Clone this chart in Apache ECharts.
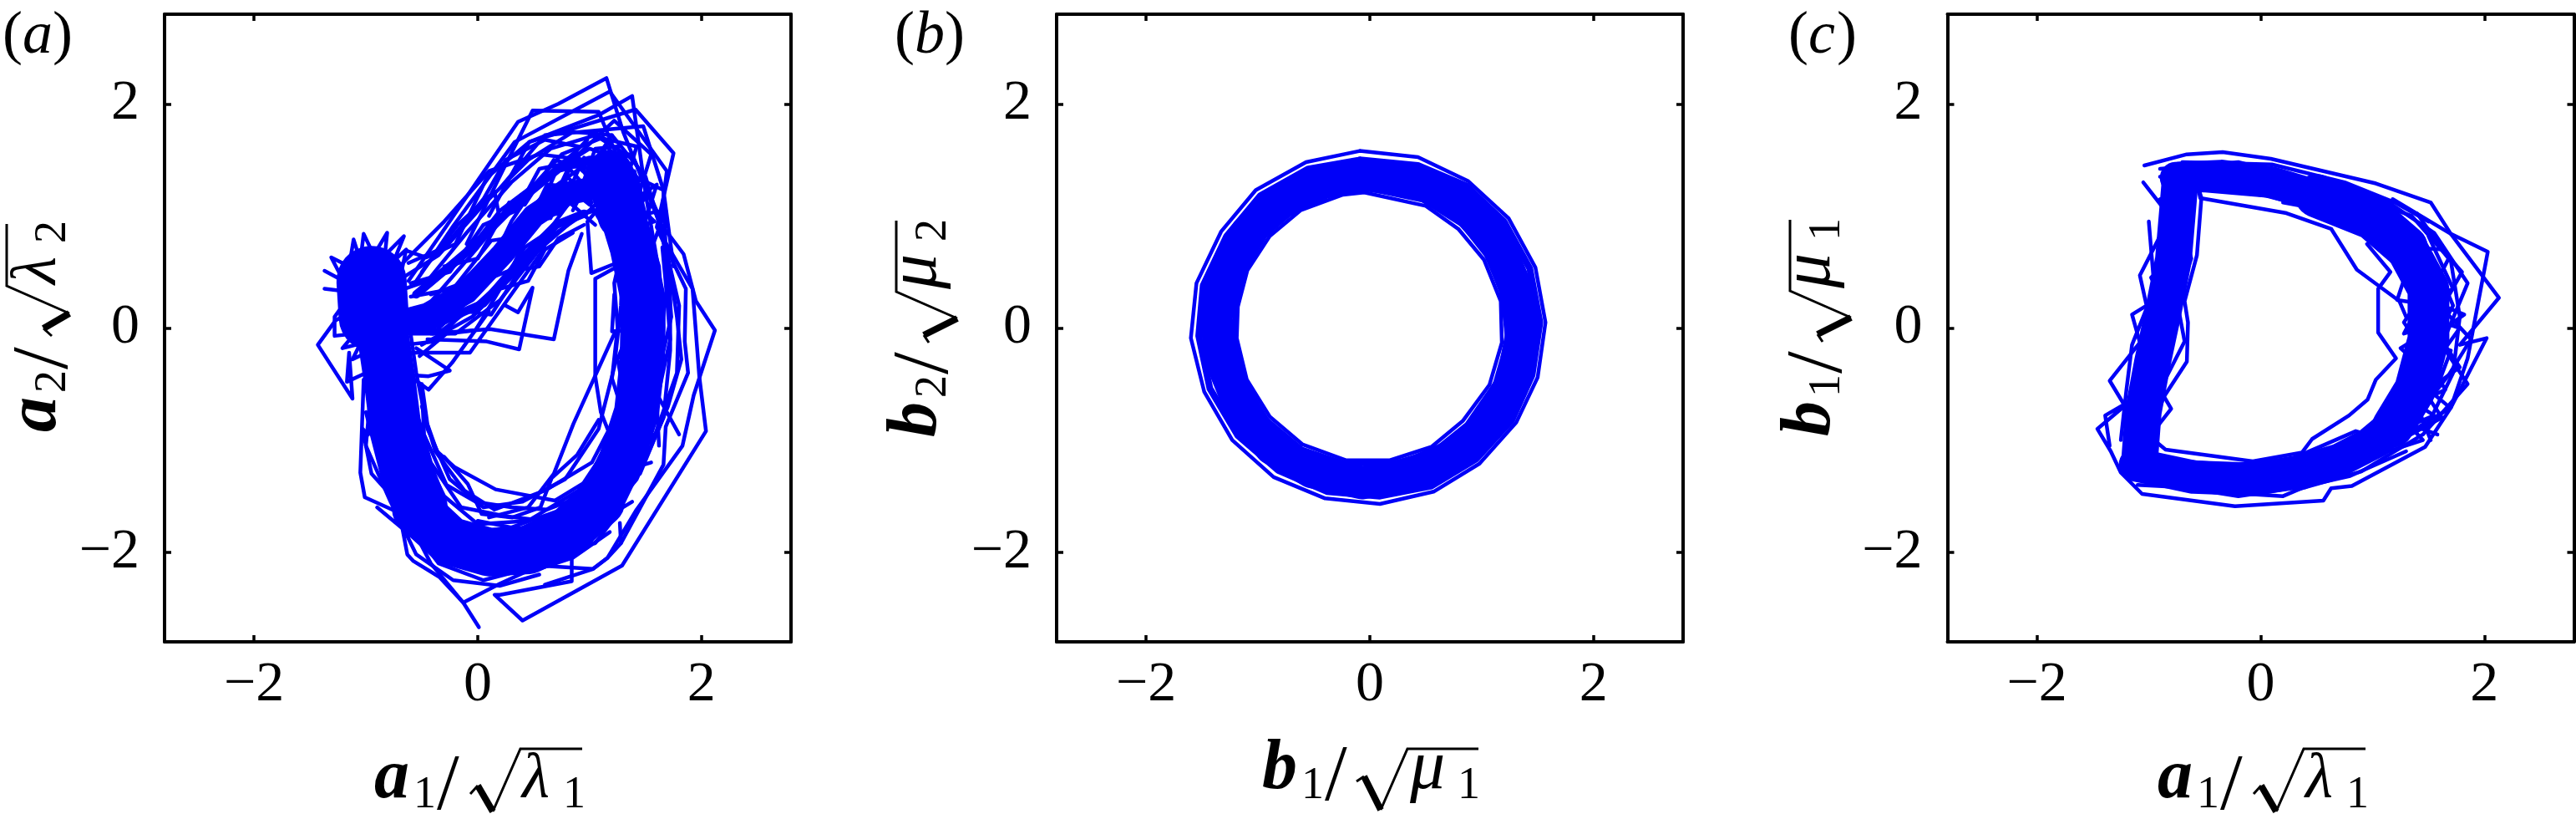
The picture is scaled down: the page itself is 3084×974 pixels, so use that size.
<!DOCTYPE html>
<html>
<head>
<meta charset="utf-8">
<style>
* { margin: 0; padding: 0; }
#chart-container { width: 3084px; height: 974px; background: #fff; }
</style>
<script src="https://cdn.jsdelivr.net/npm/echarts@6/dist/echarts.min.js"></script>
</head>
<body>
<div id="chart-container"></div>
<script>
const tickValues = [-2, 0, 2]

// panel a: a1 vs a2
const blobCoreA = [[-0.95, 0.42], [-0.93, 0.1]]
const armCoreA = [[-0.72, 0.05], [-0.45, 0.12], [-0.1, 0.32], [0.22, 0.66], [0.5, 1.0], [0.8, 1.2], [1.05, 1.25]]
const armCoreA2 = [[-0.55, 0.3], [-0.05, 0.72], [0.35, 1.12], [0.72, 1.42], [1.0, 1.5]]
const armCoreA3 = [[-0.5, -0.02], [0.05, 0.22], [0.4, 0.62], [0.7, 0.92], [0.95, 1.02]]
const downCoreA = [[-0.85, -0.05], [-0.79, -0.45], [-0.74, -0.85], [-0.62, -1.3], [-0.5, -1.6]]
const bottomCoreA = [[-0.55, -1.62], [-0.25, -1.9], [0.1, -2.0], [0.45, -1.98], [0.8, -1.82], [1.1, -1.55]]
const rightCoreA = [[1.1, -1.55], [1.28, -1.18], [1.42, -0.75], [1.47, -0.3], [1.48, 0.25], [1.38, 0.72], [1.28, 1.05]]
const topCoreA = [[1.28, 1.0], [1.26, 1.22], [1.18, 1.38]]
const blobEdgeA = [[-1.37, 0.51], [-1.2, 0.42], [-1.31, 0.63], [-1.15, 0.55], [-1.11, 0.79], [-1.05, 0.6], [-1.02, 0.84], [-0.93, 0.65], [-0.81, 0.85], [-0.83, 0.65], [-0.66, 0.82], [-0.75, 0.6], [-0.64, 0.7], [-0.7, 0.42]]
const blobLeftA = [[-1.37, 0.35], [-1.12, 0.32], [-1.28, 0.1], [-1.28, -0.07], [-1.1, -0.05], [-1.21, -0.18], [-1.05, -0.14], [-1.12, -0.28], [-0.95, -0.2]]
const leftTailA = [[-1.0, 0.2], [-1.27, 0.07], [-1.43, -0.15], [-1.12, -0.63], [-1.15, -0.22], [-1.17, -0.48], [-1.02, -0.41], [-0.9, -0.2]]
const upperA1 = [[-0.62, 0.42], [-0.28, 0.91], [0.36, 1.84], [0.72, 2.0], [1.15, 2.23], [1.3, 1.75], [1.62, 0.95], [1.84, 0.66], [1.95, 0.24], [2.12, -0.02], [1.93, -0.6], [1.83, -1.05], [1.42, -1.62], [1.16, -2.05], [1.03, -2.15], [0.6, -2.29]]
const upperA2 = [[-0.55, 0.42], [-0.22, 0.91], [0.33, 1.66], [1.18, 2.11], [1.69, 1.4], [1.62, 0.85], [1.86, 0.35], [1.85, -0.12], [1.88, -0.4], [1.68, -0.88], [1.66, -1.22], [1.28, -1.92], [1.27, -1.74]]
const upperA3 = [[-0.1, 0.75], [0.22, 1.4], [0.49, 1.94], [1.08, 1.93], [1.3, 1.4], [1.66, 1.23], [1.68, 0.7], [1.73, 0.1], [1.58, -0.55], [1.8, -0.95]]
const upperA4 = [[0.08, 1.34], [0.46, 1.66], [1.41, 1.95], [1.75, 1.56], [1.69, 1.3], [1.6, 0.9], [1.92, 0.35], [1.98, -0.43], [2.04, -0.92], [1.29, -2.12], [0.4, -2.61], [0.15, -2.38], [0.2, -2.38], [0.84, -2.26], [0.84, -2.05], [0.2, -2.2]]
const upperA5 = [[0.1, 1.0], [0.46, 1.66], [1.08, 1.9], [1.38, 2.07], [1.5, 1.2], [1.62, 0.5]]
const upperA6 = [[0.2, 1.25], [0.6, 1.72], [1.48, 1.8], [1.66, 1.23], [1.75, 0.55]]
const armEdgeA = [[-0.64, 0.69], [-0.46, 0.63], [-0.2, 0.75], [0.08, 1.34]]
const notchA1 = [[-0.42, -0.05], [0.11, -0.01], [0.68, -0.1], [0.81, 0.51], [0.93, 0.84]]
const notchA2 = [[-0.45, -0.1], [0.08, -0.12], [0.37, -0.19], [0.49, 0.36], [0.36, 0.14], [0.25, 0.2]]
const notchA3 = [[-0.6, -0.22], [-0.07, -0.22], [0.3, 0.3], [0.6, 0.72]]
const notchA4 = [[-0.62, -0.42], [-0.44, -0.55], [-0.23, -0.31], [0.1, 0.15]]
const notchA5 = [[-0.55, -0.18], [-0.25, -0.38], [-0.44, -0.43], [-0.62, -0.42]]
const innerRightA1 = [[1.015, 0.49], [1.29, 0.6], [1.015, 0.49], [0.98, 0.95], [1.15, 1.15]]
const innerRightA2 = [[1.25, 0.55], [1.05, 0.44], [1.05, -0.43], [1.1, -0.75], [1.28, -1.2]]
const innerRightA3 = [[1.23, -0.03], [0.855, -0.855], [0.68, -1.3], [0.45, -1.6], [0.1, -1.69]]
const innerRightA4 = [[1.22, 0.3], [1.2, -0.03], [1.35, -0.02], [1.25, -0.28], [1.32, -0.65]]
const innerBottomA1 = [[-0.5, -0.5], [-0.45, -0.86], [-0.365, -1.1], [-0.21, -1.24], [0.16, -1.44], [0.69, -1.54], [1.0, -1.35], [1.25, -0.9]]
const innerBottomA2 = [[-0.3, -1.15], [-0.09, -1.39], [0.035, -1.66], [0.31, -1.69], [0.56, -1.6], [0.66, -1.34], [0.89, -1.13], [1.08, -0.82]]
const leftEdgeA1 = [[-0.72, -0.3], [-1.02, -0.46], [-1.05, -1.29], [-1.01, -1.51], [-0.7, -1.65], [-0.63, -2.02], [-0.575, -2.08], [-0.345, -2.22], [-0.13, -2.45], [0.01, -2.67]]
const leftEdgeA2 = [[-0.75, -0.35], [-0.98, -0.95], [-1.03, -0.9], [-0.95, -1.3], [-0.68, -1.6], [-0.42, -2.1], [-0.13, -2.45], [0.2, -2.28], [0.55, -2.12], [1.03, -2.15], [1.16, -2.05], [1.28, -1.92]]
const orbitA1 = [[-0.8, 0.3], [-0.45, 0.42], [-0.1, 0.85], [0.3, 1.3], [0.65, 1.6], [1.05, 1.72], [1.4, 1.5], [1.62, 1.0], [1.72, 0.4], [1.72, -0.2], [1.66, -0.8], [1.42, -1.35], [1.05, -1.8], [0.55, -2.12], [0.05, -2.25], [-0.35, -2.1], [-0.65, -1.7], [-0.88, -1.15], [-0.98, -0.6], [-1.0, -0.1]]
const orbitA2 = [[-0.7, 0.15], [-0.3, 0.2], [0.1, 0.55], [0.45, 0.95], [0.8, 1.2], [1.1, 1.25], [1.3, 1.05], [1.4, 0.6], [1.42, 0.05], [1.35, -0.5], [1.2, -1.0], [0.9, -1.45], [0.45, -1.72], [0.0, -1.75], [-0.3, -1.5], [-0.52, -1.05], [-0.62, -0.55], [-0.68, -0.1]]
const orbitA3 = [[-0.75, 0.4], [-0.35, 0.65], [0.05, 1.1], [0.45, 1.5], [0.85, 1.75], [1.2, 1.72], [1.5, 1.35], [1.66, 0.8], [1.8, 0.2], [1.78, -0.4], [1.55, -1.05], [1.25, -1.6], [0.75, -2.0], [0.2, -2.2], [-0.2, -2.0], [-0.55, -1.55], [-0.8, -0.95], [-0.85, -0.35], [-0.9, 0.1]]
const orbitA4 = [[-0.65, -0.05], [-0.2, -0.05], [0.2, 0.25], [0.55, 0.7], [0.9, 1.0], [1.2, 1.1], [1.42, 0.85], [1.52, 0.35], [1.55, -0.25], [1.4, -0.85], [1.1, -1.35], [0.7, -1.65], [0.25, -1.85], [-0.15, -1.9], [-0.5, -1.65], [-0.72, -1.2], [-0.82, -0.7], [-0.85, -0.2]]
const orbitA5 = [[-0.7, 0.55], [-0.3, 0.95], [0.1, 1.4], [0.55, 1.55], [0.95, 1.5], [1.3, 1.3], [1.55, 0.8], [1.58, 0.25], [1.6, -0.35], [1.48, -1.0], [1.2, -1.5], [0.8, -1.9], [0.35, -2.05], [-0.1, -2.15], [-0.45, -1.85], [-0.75, -1.4], [-0.93, -0.9], [-0.9, -0.4]]
const orbitA6 = [[-0.6, 0.05], [-0.15, 0.4], [0.25, 0.8], [0.6, 1.2], [0.95, 1.45], [1.15, 1.55], [1.32, 1.25], [1.3, 0.75], [1.28, 0.2], [1.22, -0.35], [1.08, -0.9], [0.78, -1.35], [0.4, -1.55], [0.05, -1.6], [-0.25, -1.35], [-0.45, -0.9], [-0.55, -0.4], [-0.6, -0.05]]
const orbitA7 = [[-0.55, 0.3], [-0.15, 0.6], [0.2, 1.05], [0.6, 1.35], [1.0, 1.6], [1.28, 1.5], [1.45, 1.1], [1.62, 0.55], [1.66, 0.0], [1.62, -0.55], [1.35, -1.15], [1.0, -1.62], [0.6, -1.9], [0.15, -2.02], [-0.2, -1.72], [-0.48, -1.3], [-0.68, -0.8], [-0.76, -0.3]]
const orbitA8 = [[-0.5, -0.15], [-0.05, 0.1], [0.35, 0.5], [0.7, 0.85], [1.0, 1.05], [1.25, 1.3], [1.4, 1.4], [1.5, 1.0], [1.45, 0.45], [1.38, -0.15], [1.28, -0.7], [1.02, -1.2], [0.6, -1.45], [0.15, -1.62], [-0.12, -1.45], [-0.38, -1.1], [-0.5, -0.7]]
const orbitA9 = [[-0.45, 0.2], [0.0, 0.72], [0.38, 1.18], [0.75, 1.45], [1.1, 1.42], [1.2, 0.98], [0.95, 1.32], [1.05, 1.6], [1.25, 1.62], [1.38, 1.2], [1.35, 0.9]]
const orbitA10 = [[-0.35, 0.05], [0.1, 0.42], [0.42, 0.8], [0.68, 1.1], [0.82, 1.42], [1.02, 1.2], [1.12, 0.95], [1.0, 1.38], [1.18, 1.5], [1.28, 1.18]]
const orbitA11 = [[-0.4, -0.05], [0.0, 0.32], [0.3, 0.95], [0.52, 1.28], [0.88, 1.58], [1.05, 1.15], [1.3, 1.42], [1.1, 1.05], [1.28, 0.95]]
const orbitA12 = [[-0.9, -1.6], [-0.6, -1.85], [-0.3, -2.1], [0.05, -2.12], [0.35, -1.98], [0.7, -1.98], [1.05, -1.92], [1.28, -1.62]]
const orbitA13 = [[-0.7, -1.4], [-0.35, -1.72], [0.02, -1.82], [0.3, -2.1], [0.62, -2.02], [0.95, -1.72], [1.25, -1.42], [1.58, -0.95]]
const armA1 = [[-0.62, 0.58], [-0.3, 0.72], [0.05, 1.15], [0.25, 1.5], [0.6, 1.68], [0.9, 1.62], [0.75, 1.3], [1.0, 1.1]]
const armA2 = [[-0.6, 0.4], [-0.25, 0.5], [0.05, 0.92], [0.35, 1.05], [0.55, 1.42], [0.85, 1.48], [1.05, 1.3]]
const armA3 = [[-0.6, 0.28], [-0.22, 0.35], [0.12, 0.78], [0.4, 0.82], [0.62, 1.28], [0.95, 1.25], [1.1, 1.48]]
const armA4 = [[-0.58, 0.12], [-0.25, 0.12], [0.05, 0.42], [0.3, 0.52], [0.52, 1.0], [0.72, 1.02], [0.95, 1.52]]
const armA5 = [[-0.62, -0.02], [-0.32, -0.02], [0.0, 0.22], [0.22, 0.42], [0.42, 0.72], [0.62, 0.85], [0.82, 1.12], [1.05, 0.92]]
const armA6 = [[-0.55, 0.0], [-0.1, 0.3], [0.18, 0.72], [0.32, 0.72], [0.58, 1.12], [0.7, 1.4], [0.98, 1.68]]
const armA7 = [[-0.5, 0.5], [-0.18, 0.92], [0.15, 1.22], [0.2, 0.95], [0.48, 1.25], [0.75, 1.55], [1.12, 1.7]]
const armA8 = [[-0.65, -0.15], [-0.38, -0.12], [-0.12, 0.15], [0.12, 0.12], [0.38, 0.52], [0.55, 0.55], [0.72, 0.8], [0.95, 0.92]]
const armA9 = [[-0.52, -0.25], [-0.28, -0.05], [-0.02, -0.02], [0.2, 0.35], [0.45, 0.42], [0.6, 0.7], [0.85, 0.85]]
const armA10 = [[-0.42, 0.3], [-0.08, 0.42], [0.2, 0.55], [0.35, 0.95], [0.65, 0.98], [0.8, 1.35], [1.02, 1.12]]
const armA11 = [[-0.3, 0.55], [0.0, 0.62], [0.28, 1.12], [0.42, 1.1], [0.68, 1.5], [1.0, 1.42], [1.2, 1.72]]
const topA1 = [[0.85, 1.05], [1.15, 1.62], [1.45, 1.32], [1.1, 1.1], [1.52, 1.18], [1.2, 0.85], [1.58, 0.95], [1.02, 1.5]]
const topA2 = [[1.0, 1.72], [1.42, 1.62], [1.25, 1.05], [1.6, 1.28], [1.45, 0.8], [1.1, 0.95], [0.95, 1.2], [1.35, 1.55]]
const topA3 = [[0.9, 1.55], [1.22, 1.85], [1.55, 1.55], [1.38, 1.0], [1.68, 1.05], [1.52, 0.62]]
const lowA1 = [[-0.98, -0.3], [-0.9, -0.85], [-0.82, -1.3], [-0.5, -1.85], [-0.15, -2.0], [0.25, -2.0]]
const lowA2 = [[-0.62, -0.2], [-0.55, -0.75], [-0.42, -1.2], [-0.15, -1.6], [0.25, -1.68], [0.6, -1.72]]
const lowA3 = [[-0.95, -0.5], [-1.0, -1.05], [-0.78, -1.55], [-0.55, -2.02], [-0.22, -2.25], [0.2, -2.3], [0.55, -2.2]]
const lowA4 = [[-0.5, -0.55], [-0.48, -0.95], [-0.28, -1.4], [-0.02, -1.55], [0.3, -1.6], [0.62, -1.62], [0.98, -1.48]]
const lowA5 = [[-0.88, -0.65], [-0.72, -1.35], [-0.48, -1.72], [-0.28, -1.98], [0.05, -2.08], [0.45, -2.18], [0.85, -2.05], [1.18, -1.82]]
const lowA6 = [[-1.0, -0.75], [-0.82, -1.45], [-0.62, -1.85], [-0.3, -1.85], [0.12, -2.18], [0.65, -2.12], [1.1, -1.72], [1.38, -1.55]]
const lowA7 = [[0.0, -1.72], [0.3, -1.78], [0.75, -1.62], [1.0, -1.7], [1.25, -1.25], [1.05, -1.35], [1.55, -1.2]]
const rightA1 = [[1.62, -1.05], [1.6, -0.65], [1.72, -0.1], [1.68, 0.4], [1.65, 0.72]]
const rightA2 = [[1.28, -0.7], [1.2, -0.45], [1.25, 0.0], [1.22, 0.4], [1.3, 0.75]]
const rightA3 = [[1.45, -1.3], [1.7, -0.7], [1.82, -0.28], [1.78, 0.1], [1.72, 0.5]]
const rightA4 = [[1.35, -1.3], [1.3, -1.0], [1.22, -0.78], [1.35, -0.55], [1.28, 0.1], [1.32, 0.55], [1.15, 0.9]]

// panel b: b1 vs b2
const ringCoreB = [[-0.05, 1.37], [0.45, 1.3], [0.85, 1.08], [1.13, 0.77], [1.3, 0.37], [1.36, -0.05], [1.28, -0.47], [1.07, -0.85], [0.77, -1.13], [0.38, -1.3], [-0.07, -1.38], [-0.52, -1.28], [-0.88, -1.07], [-1.13, -0.77], [-1.3, -0.35], [-1.38, 0.08], [-1.3, 0.47], [-1.1, 0.85], [-0.8, 1.12], [-0.42, 1.3], [-0.05, 1.37]]
const outerB = [[-0.09, 1.58], [0.43, 1.525], [0.88, 1.31], [1.24, 0.98], [1.48, 0.54], [1.57, 0.05], [1.5, -0.44], [1.31, -0.84], [0.98, -1.21], [0.57, -1.46], [0.09, -1.57], [-0.4, -1.52], [-0.86, -1.33], [-1.23, -1.0], [-1.48, -0.57], [-1.6, -0.09], [-1.55, 0.4], [-1.33, 0.86], [-1.02, 1.23], [-0.57, 1.48], [-0.09, 1.58]]
const outerB2 = [[-0.09, 1.5], [0.43, 1.45], [0.86, 1.27], [1.2, 0.95], [1.43, 0.53], [1.52, 0.05], [1.45, -0.42], [1.27, -0.82], [0.95, -1.17], [0.55, -1.41], [0.09, -1.5], [-0.38, -1.46], [-0.82, -1.27], [-1.18, -0.96], [-1.43, -0.54], [-1.53, -0.07], [-1.49, 0.38], [-1.28, 0.82], [-0.98, 1.18], [-0.55, 1.42], [-0.09, 1.5]]
const innerB = [[-0.05, 1.21], [0.5, 1.09], [0.79, 0.885], [1.02, 0.61], [1.17, 0.24], [1.18, -0.13], [1.07, -0.505], [0.83, -0.83], [0.55, -1.06], [0.18, -1.18], [-0.21, -1.18], [-0.6, -1.04], [-0.895, -0.79], [-1.1, -0.46], [-1.19, -0.09], [-1.18, 0.19], [-1.095, 0.515], [-0.895, 0.82], [-0.62, 1.05], [-0.24, 1.19], [-0.05, 1.21]]
const innerB2 = [[-0.05, 1.25], [0.48, 1.14], [0.83, 0.92], [1.06, 0.63], [1.2, 0.26], [1.23, -0.12], [1.12, -0.5], [0.87, -0.86], [0.57, -1.1], [0.2, -1.21], [-0.22, -1.21], [-0.61, -1.08], [-0.92, -0.82], [-1.13, -0.47], [-1.22, -0.09], [-1.2, 0.22], [-1.12, 0.53], [-0.92, 0.85], [-0.64, 1.08], [-0.26, 1.23], [-0.05, 1.25]]

// panel c: a1 vs b1
const leftCoreC = [[-0.72, 1.32], [-0.78, 0.61], [-0.88, 0.1], [-0.97, -0.32], [-1.05, -0.75], [-1.08, -1.15]]
const bottomCoreC = [[-1.12, -1.22], [-0.6, -1.33], [-0.07, -1.35], [0.35, -1.28], [0.7, -1.18], [1.05, -1.0], [1.18, -0.88]]
const rightCoreC = [[1.18, -0.88], [1.38, -0.55], [1.5, -0.1], [1.5, 0.35], [1.3, 0.72]]
const topRightCoreC = [[1.3, 0.72], [1.0, 0.98], [0.5, 1.18]]
const topCoreC = [[0.5, 1.18], [0.1, 1.3], [-0.35, 1.36], [-0.76, 1.34]]
const outerC1 = [[-1.04, 1.45], [-0.66, 1.55], [-0.34, 1.57], [0.09, 1.51], [1.03, 1.29], [1.52, 1.12], [1.7, 0.84], [2.03, 0.68], [1.85, -0.27], [1.7, -0.71], [1.47, -1.06], [0.815, -1.41], [0.63, -1.43], [0.56, -1.54], [-0.23, -1.59], [-1.06, -1.48], [-1.25, -1.29], [-1.34, -1.1], [-1.46, -0.9], [-1.15, -0.64], [-1.39, -0.78], [-1.35, -1.05]]
const outerC2 = [[1.18, 1.15], [1.7, 0.84], [2.13, 0.27], [1.78, -0.15], [2.02, -0.09], [1.7, -0.71], [1.3, -0.95], [0.9, -1.2], [0.2, -1.5], [-0.45, -1.46], [-1.0, -1.35]]
const outerC3 = [[-1.05, 1.3], [-0.87, 1.07], [-0.89, 0.84], [-1.08, 0.47], [-1.02, 0.2], [-1.15, 0.12], [-1.08, -0.13], [-1.35, -0.47], [-1.12, -0.85], [-1.2, -1.05]]
const innerC1 = [[-0.6, 1.45], [-0.54, 1.16], [0.23, 1.025], [0.63, 0.885], [0.86, 0.52], [1.24, 0.24], [1.3, 0.1]]
const innerC2 = [[0.95, 0.75], [1.16, 0.5], [1.05, 0.35], [1.05, -0.04], [1.21, -0.27], [1.03, -0.46], [0.955, -0.64], [0.79, -0.78], [0.46, -0.99], [0.37, -1.11], [-0.07, -1.19], [-0.85, -1.085], [-0.99, -0.97], [-0.87, -0.62], [-0.66, -0.3], [-0.65, 0.05], [-0.68, 0.24], [-0.57, 0.65], [-0.53, 1.16], [-0.6, 1.4]]
const orbitC1 = [[-0.68, 1.3], [0.1, 1.42], [0.8, 1.2], [1.35, 1.0], [1.7, 0.6], [1.78, 0.1], [1.72, -0.4], [1.5, -0.85], [1.0, -1.15], [0.4, -1.42], [-0.3, -1.45], [-0.9, -1.32]]
const orbitC2 = [[-0.9, 1.42], [-0.2, 1.48], [0.5, 1.3], [1.1, 1.15], [1.55, 0.85], [1.85, 0.4], [1.62, -0.15], [1.85, -0.5], [1.45, -0.95], [0.9, -1.28], [0.3, -1.45]]
const orbitC3 = [[0.2, 1.12], [0.75, 1.02], [1.2, 0.72], [1.48, 0.35], [1.28, 0.05], [1.52, -0.3], [1.22, -0.55], [1.4, -0.92], [1.05, -0.8], [0.75, -1.05]]
const orbitC4 = [[1.0, 1.05], [1.35, 0.82], [1.62, 0.38], [1.35, -0.12], [1.7, -0.2], [1.55, -0.6], [1.25, -0.4], [1.3, -0.85], [1.58, -0.95]]
const orbitC5 = [[1.1, 0.95], [1.55, 0.6], [1.72, 0.2], [1.48, -0.25], [1.65, -0.55], [1.38, -0.68], [1.15, -0.68], [1.45, -1.0], [1.08, -1.12]]
const orbitC6 = [[1.4, 1.02], [1.68, 0.62], [1.42, 0.12], [1.78, 0.0], [1.42, -0.5], [1.62, -0.8], [1.25, -1.0], [0.95, -0.95]]
const orbitC7 = [[-0.9, 1.15], [-0.72, 0.7], [-0.98, 0.45], [-0.82, 0.15], [-1.08, -0.2], [-0.88, -0.5], [-1.22, -0.8], [-1.0, -1.1]]
const orbitC8 = [[-0.75, 1.1], [-0.62, 0.62], [-0.75, 0.25], [-0.68, -0.12], [-0.9, -0.55], [-0.8, -0.72], [-0.98, -0.95]]
const topC1 = [[-0.7, 1.48], [0.1, 1.46], [0.75, 1.3], [1.2, 1.12], [1.5, 0.95]]
const topC2 = [[-0.65, 1.24], [0.05, 1.18], [0.55, 1.05], [1.0, 0.82], [1.35, 0.5]]
const topC3 = [[-0.9, 1.35], [0.0, 1.28], [0.7, 1.12], [1.15, 0.9], [1.5, 0.65], [1.62, 0.3]]
const rightC1 = [[1.12, 0.75], [1.32, 0.55], [1.22, 0.25], [1.42, 0.22], [1.28, -0.05], [1.62, 0.05], [1.25, -0.18], [1.55, -0.45]]
const rightC2 = [[1.5, 0.82], [1.72, 0.35], [1.5, 0.25], [1.82, 0.12], [1.58, -0.05], [1.78, -0.35], [1.5, -0.55], [1.68, -0.7]]
const rightC3 = [[1.22, 0.9], [1.55, 0.48], [1.35, 0.42], [1.68, 0.15], [1.4, -0.35], [1.3, -0.62], [1.55, -0.78], [1.15, -0.95]]
const rightC4 = [[1.35, 0.72], [1.62, 0.7], [1.8, 0.5], [1.62, 0.18], [1.88, -0.1], [1.68, -0.42], [1.42, -0.75], [1.52, -1.0]]
const lowC1 = [[1.2, -1.02], [0.85, -0.92], [0.55, -1.05], [0.2, -1.2], [-0.3, -1.22], [-0.8, -1.18]]
const lowC2 = [[1.3, -1.1], [0.8, -1.32], [0.35, -1.42], [-0.2, -1.5], [-0.7, -1.42], [-1.1, -1.4]]
const leftC1 = [[-1.0, 0.95], [-0.95, 0.35], [-1.15, -0.15], [-1.2, -0.55], [-1.25, -1.0]]

const thin = 4.5
const seriesA = [
  [blobCoreA, 84], [downCoreA, 62], [armCoreA, 28], [armCoreA2, 10], [armCoreA3, 10], [bottomCoreA, 58], [rightCoreA, 54], [topCoreA, 56],
  [blobEdgeA, thin], [blobLeftA, thin], [leftTailA, thin], [upperA1, thin], [upperA2, thin], [upperA3, thin],
  [upperA4, thin], [upperA5, thin], [upperA6, thin], [armEdgeA, thin], [notchA1, thin], [notchA2, thin],
  [notchA3, thin], [notchA4, thin], [notchA5, thin], [innerRightA1, thin], [innerRightA2, thin], [innerRightA3, thin],
  [innerRightA4, thin], [innerBottomA1, thin], [innerBottomA2, thin], [leftEdgeA1, thin], [leftEdgeA2, thin],
  [orbitA1, thin], [orbitA2, thin], [orbitA3, thin], [orbitA4, thin], [orbitA5, thin], [orbitA6, thin], [orbitA7, thin],
  [orbitA8, thin], [orbitA9, thin], [orbitA10, thin], [orbitA11, thin], [orbitA12, thin], [orbitA13, thin],
  [armA1, thin], [armA2, thin], [armA3, thin], [armA4, thin], [armA5, thin], [armA6, thin], [armA7, thin], [armA8, thin],
  [armA9, thin], [armA10, thin], [armA11, thin], [topA1, thin], [topA2, thin], [topA3, thin],
  [lowA1, thin], [lowA2, thin], [lowA3, thin], [lowA4, thin], [lowA5, thin], [lowA6, thin], [lowA7, thin],
  [rightA1, thin], [rightA2, thin], [rightA3, thin], [rightA4, thin]
]
const seriesB = [[ringCoreB, 40], [outerB, thin], [outerB2, 8], [innerB, thin], [innerB2, 6]]
const seriesC = [
  [leftCoreC, 44], [bottomCoreC, 40], [rightCoreC, 50], [topRightCoreC, 52], [topCoreC, 38],
  [outerC1, thin], [outerC2, thin], [outerC3, thin], [innerC1, thin], [innerC2, thin],
  [orbitC1, thin], [orbitC2, thin], [orbitC3, thin], [orbitC4, thin], [orbitC5, thin], [orbitC6, thin], [orbitC7, thin], [orbitC8, thin],
  [topC1, thin], [topC2, thin], [topC3, thin], [rightC1, thin], [rightC2, thin], [rightC3, thin], [rightC4, thin],
  [lowC1, thin], [lowC2, thin], [leftC1, thin]
]

const FONT = 'Liberation Serif'
const gridLefts = [197, 1265, 2331.5]
const gridTop = 17
const gridSize = 750

const axisBase = (gridIndex) => ({
  type: 'value',
  gridIndex,
  min: -2.8,
  max: 2.8,
  splitLine: { show: false },
  axisLine: { onZero: false, lineStyle: { color: '#000', width: 4 } },
  axisTick: { inside: true, length: 8, customValues: tickValues, lineStyle: { color: '#000', width: 3.5 } }
})
const mainAxis = (gridIndex, position) => ({
  ...axisBase(gridIndex),
  position,
  axisLabel: {
    customValues: tickValues,
    formatter: (v) => String(v).replace('-', '\u2212'),
    color: '#000',
    fontFamily: FONT,
    fontSize: 68,
    margin: position === 'bottom' ? 18 : 30
  }
})
const mirrorAxis = (gridIndex, position) => ({
  ...axisBase(gridIndex),
  position,
  axisLabel: { show: false }
})

const series = []
;[seriesA, seriesB, seriesC].forEach((list, panel) => {
  list.forEach(([points, width], i) => {
    series.push({
      type: 'line',
      name: 'panel' + panel + '-' + i,
      xAxisIndex: panel * 2,
      yAxisIndex: panel * 2,
      data: points,
      symbol: 'none',
      silent: true,
      lineStyle: { color: '#0000f8', width, cap: 'round', join: 'round' }
    })
  })
})

// the axis titles are typeset by hand: letter, subscript, slash, radical with bar, symbol, subscript
const textEl = (text, x, base, size, style) => ({
  type: 'text',
  x,
  y: base + size * 0.19,
  style: { text, font: (style || '') + ' ' + size + 'px ' + FONT, fill: '#000', textVerticalAlign: 'bottom', verticalAlign: 'bottom' }
})
const lineEl = (points, width) => ({
  type: 'polyline',
  shape: { points },
  style: { stroke: '#000', lineWidth: width, fill: null, lineJoin: 'miter' }
})
const titleEl = (x, y, rotation, kind, subA, subB) => {
  const isA = kind === 'a'
  const top = isA ? -62 : -51
  const head = isA ? [115, -8] : [113, -12]
  const knee = isA ? [124, -18] : [122, -18]
  const foot = isA ? [142, 13] : [142, 22]
  const end = isA ? 249 : 259
  const barStart = isA ? 175 : 174
  return {
    type: 'group',
    x,
    y,
    rotation,
    children: [
      textEl(isA ? 'a' : 'b', 0, 0, 84, 'italic bold'),
      textEl(subA, 47, 11, 54),
      textEl('/', 75, 15, 96),
      lineEl([head, knee], 3),
      lineEl([knee, foot], 8),
      lineEl([foot, [barStart, top], [end, top]], 3),
      textEl(isA ? '\u03bb' : '\u03bc', 177, 0, isA ? 76 : 84, 'italic'),
      textEl(subB, isA ? 226 : 234, 11, 54)
    ]
  }
}
const tagEl = (letter, x) => ({
  type: 'group',
  children: [
    textEl('(', x, 66, 72),
    textEl(letter, x + 24, 66, 72, 'italic'),
    textEl(')', x + (letter === 'c' ? 58 : 60), 66, 72)
  ]
})

const option = {
  animation: false,
  backgroundColor: '#fff',
  grid: gridLefts.map((left) => ({ left, top: gridTop, width: gridSize, height: gridSize + 1 })),
  xAxis: [
    mainAxis(0, 'bottom'), mirrorAxis(0, 'top'),
    mainAxis(1, 'bottom'), mirrorAxis(1, 'top'),
    mainAxis(2, 'bottom'), mirrorAxis(2, 'top')
  ],
  yAxis: [
    mainAxis(0, 'left'), mirrorAxis(0, 'right'),
    mainAxis(1, 'left'), mirrorAxis(1, 'right'),
    mainAxis(2, 'left'), mirrorAxis(2, 'right')
  ],
  series,
  graphic: [
    tagEl('a', 3),
    tagEl('b', 1071),
    tagEl('c', 2141),
    titleEl(448, 958, 0, 'a', '1', '1'),
    titleEl(70, 517, Math.PI / 2, 'a', '2', '2'),
    titleEl(1511, 947, 0, 'b', '1', '1'),
    titleEl(1124, 523, Math.PI / 2, 'b', '2', '2'),
    titleEl(2583, 958, 0, 'a', '1', '1'),
    titleEl(2194, 522, Math.PI / 2, 'b', '1', '1')
  ]
}

const myChart = echarts.init(document.getElementById('chart-container'), null, { renderer: 'canvas' })
myChart.setOption(option)
</script>
</body>
</html>
